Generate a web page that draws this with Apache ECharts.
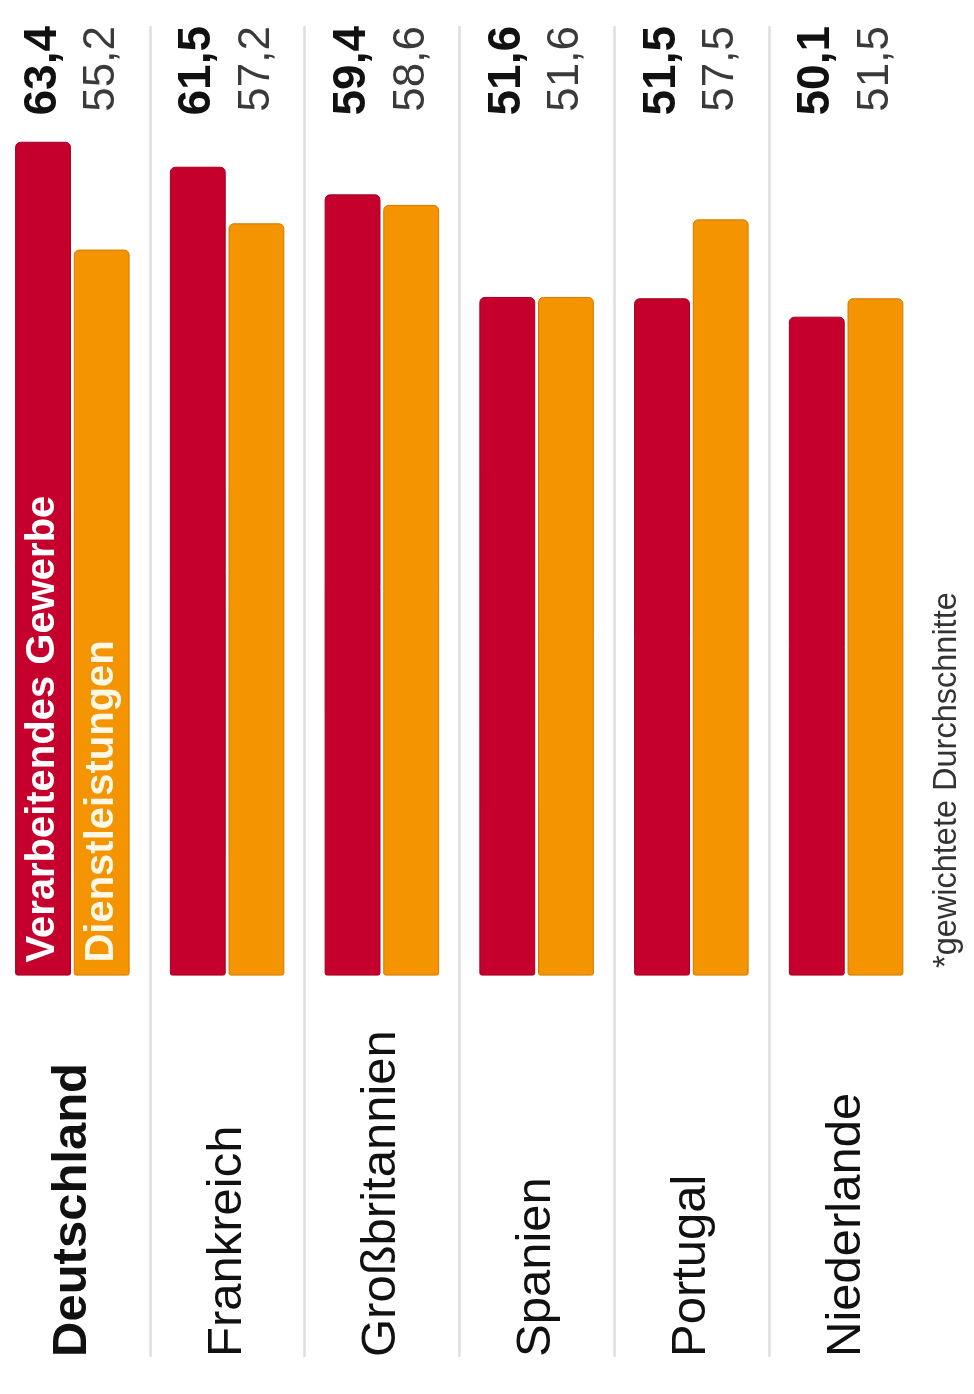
<!DOCTYPE html>
<html>
<head>
<meta charset="utf-8">
<script src="https://cdn.jsdelivr.net/npm/echarts@6/dist/echarts.min.js"></script>
<style>
html,body{margin:0;padding:0;background:#ffffff;}
#c{width:974px;height:1394px;}
</style>
</head>
<body>
<div id="c"></div>
<script>
const countries = ['Deutschland', 'Frankreich', 'Großbritannien', 'Spanien', 'Portugal', 'Niederlande'];
const manufacturing = [63.4, 61.5, 59.4, 51.6, 51.5, 50.1];
const services = [55.2, 57.2, 58.6, 51.6, 57.5, 51.5];
const seriesNames = ['Verarbeitendes Gewerbe', 'Dienstleistungen'];
const footnote = '*gewichtete Durchschnitte';

const FONT = '"Liberation Sans", Arial, Helvetica, sans-serif';
const RED = '#c5002c';
const ORANGE = '#f39400';
const fmt = v => v.toFixed(1).replace('.', ',');

const chart = echarts.init(document.getElementById('c'), null, {renderer: 'canvas'});

const option = {
  backgroundColor: '#ffffff',
  animation: false,
  textStyle: {fontFamily: FONT},
  grid: {left: -5, width: 928.5, top: 26, bottom: 37, containLabel: false, outerBoundsMode: 'none'},
  xAxis: [
    {
      type: 'category',
      position: 'bottom',
      data: countries.map((c, i) => i === 0 ? {
        value: c,
        textStyle: {fontWeight: 'bold', align: 'left', verticalAlign: 'middle', fontSize: 49, color: '#111111'}
      } : c),
      axisLine: {show: false},
      axisTick: {show: false},
      splitLine: {show: true, interval: 0, showMinLine: false, showMaxLine: false, lineStyle: {color: '#dedede', width: 2.5}},
      axisLabel: {
        interval: 0, rotate: 90, align: 'left', verticalAlign: 'middle', margin: 0,
        fontSize: 49, color: '#111111', fontFamily: FONT
      }
    },
    {
      type: 'category',
      position: 'top',
      data: countries,
      axisLine: {show: false},
      axisTick: {show: false},
      splitLine: {show: false},
      axisLabel: {
        interval: 0, rotate: -90, align: 'right', verticalAlign: 'middle', margin: 0,
        formatter: (value, idx) => '{a|' + fmt(manufacturing[idx]) + '}\n{b|' + fmt(services[idx]) + '}',
        rich: {
          a: {fontSize: 46, fontWeight: 'bold', color: '#111111', lineHeight: 59, fontFamily: FONT},
          b: {fontSize: 44, color: '#3a3a3a', lineHeight: 59, fontFamily: FONT}
        }
      }
    }
  ],
  yAxis: {
    type: 'value', min: -29, max: 72.2, show: false,
    splitLine: {show: false}
  },
  series: [
    {
      name: seriesNames[0],
      type: 'bar',
      xAxisIndex: 0,
      barGap: '5%',
      barCategoryGap: '26%',
      itemStyle: {color: RED, borderRadius: [5, 5, 2, 2], borderColor: '#a00022', borderWidth: 1},
      data: manufacturing.map((v, i) => i === 0 ? {
        value: v,
        label: {
          show: true, position: 'insideBottom', distance: 13, rotate: 90,
          align: 'left', verticalAlign: 'middle',
          formatter: seriesNames[0], color: '#ffffff', fontSize: 40, fontWeight: 'bold', fontFamily: FONT
        }
      } : v)
    },
    {
      name: seriesNames[1],
      type: 'bar',
      xAxisIndex: 0,
      barGap: '5%',
      barCategoryGap: '26%',
      itemStyle: {color: ORANGE, borderRadius: [5, 5, 2, 2], borderColor: '#d27a00', borderWidth: 1},
      data: services.map((v, i) => i === 0 ? {
        value: v,
        label: {
          show: true, position: 'insideBottom', distance: 13, rotate: 90,
          align: 'left', verticalAlign: 'middle',
          formatter: seriesNames[1], color: '#fff8e6', fontSize: 40, fontWeight: 'bold', fontFamily: FONT
        }
      } : v)
    }
  ],
  graphic: [
    {
      type: 'text', x: 947, y: 968, rotation: Math.PI / 2,
      style: {text: footnote, fontSize: 32.5, fill: '#333333', align: 'left', verticalAlign: 'middle', fontFamily: FONT}
    }
  ]
};
chart.setOption(option);
</script>
</body>
</html>
